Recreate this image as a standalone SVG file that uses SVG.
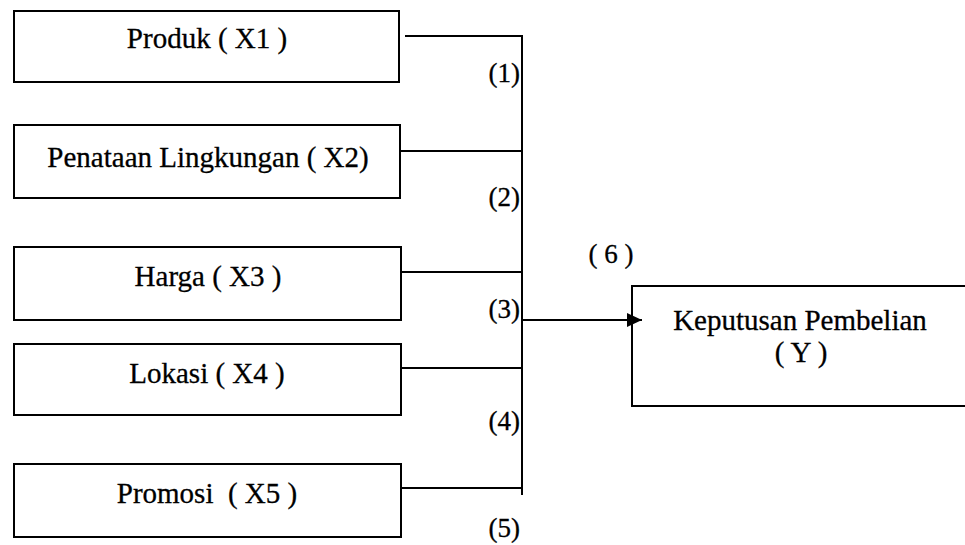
<svg xmlns="http://www.w3.org/2000/svg" width="965" height="545" viewBox="0 0 965 545">
<style>
.box{fill:#fff;stroke:#000;stroke-width:2}
.t{font-family:"Liberation Serif","Times New Roman",serif;font-size:29px;fill:#000;stroke:#000;stroke-width:0.3;text-anchor:middle;white-space:pre}
.n{font-family:"Liberation Serif","Times New Roman",serif;font-size:27px;fill:#000;stroke:#000;stroke-width:0.3;text-anchor:end}
.c{stroke:#000;stroke-width:2;fill:none}
</style>
<defs>
<marker id="ah" markerUnits="userSpaceOnUse" markerWidth="16" markerHeight="14" refX="15" refY="7" orient="auto">
<path d="M0,0 L15,7 L0,14 Z" fill="#000"/>
</marker>
</defs>
<rect width="965" height="545" fill="#fff"/>
<g id="x1">
<rect class="box" x="14" y="11" width="385" height="71"/>
<text class="t" x="207" y="48">Produk ( X1 )</text>
</g>
<g id="x2">
<rect class="box" x="14" y="125" width="386" height="73"/>
<text class="t" x="208" y="167">Penataan Lingkungan ( X2)</text>
</g>
<g id="x3">
<rect class="box" x="14" y="247" width="387" height="73"/>
<text class="t" x="208" y="286">Harga ( X3 )</text>
</g>
<g id="x4">
<rect class="box" x="14" y="344" width="387" height="71"/>
<text class="t" x="207" y="383">Lokasi ( X4 )</text>
</g>
<g id="x5">
<rect class="box" x="14" y="464" width="387" height="73"/>
<text class="t" x="207" y="503">Promosi  ( X5 )</text>
</g>
<g id="y">
<rect class="box" x="632" y="286" width="345" height="120"/>
<text class="t" x="800" y="330">Keputusan Pembelian</text>
<text class="t" x="801" y="362">( Y )</text>
</g>
<g id="connectors">
<line class="c" x1="405" y1="36" x2="522" y2="36"/>
<line class="c" x1="400" y1="151" x2="522" y2="151"/>
<line class="c" x1="400" y1="272" x2="522" y2="272"/>
<line class="c" x1="400" y1="368" x2="522" y2="368"/>
<line class="c" x1="400" y1="488" x2="522" y2="488"/>
<line class="c" x1="522" y1="35" x2="522" y2="495"/>
<line class="c" x1="522" y1="320" x2="642" y2="320" marker-end="url(#ah)"/>
<text class="n" x="520" y="82">(1)</text>
<text class="n" x="520" y="206">(2)</text>
<text class="n" x="520" y="318">(3)</text>
<text class="n" x="520" y="430">(4)</text>
<text class="n" x="520" y="537">(5)</text>
<text class="n" x="611" y="263" style="text-anchor:middle">( 6 )</text>
</g>
</svg>
